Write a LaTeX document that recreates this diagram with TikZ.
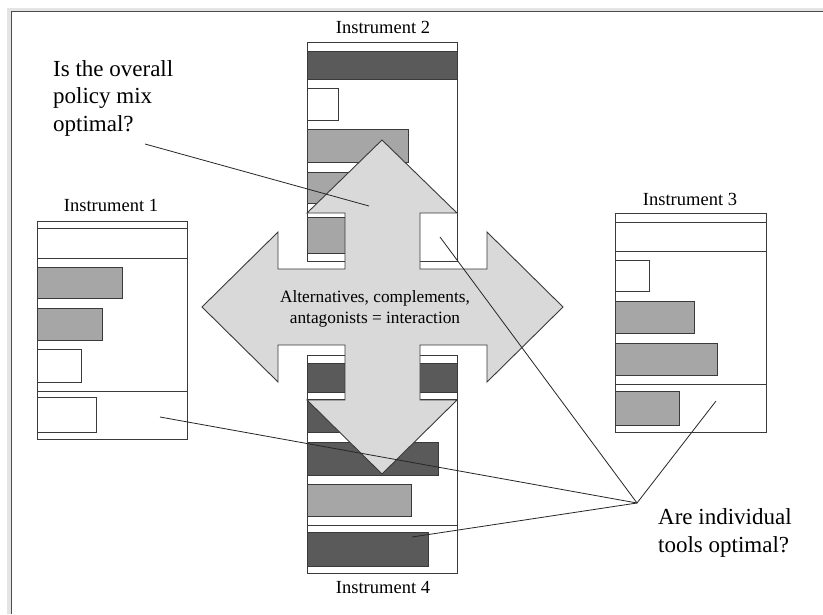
\documentclass[tikz,border=0pt]{standalone}
\usepackage{fontspec}
\setmainfont{Liberation Serif}
\definecolor{lc}{HTML}{3A3A3A}
\definecolor{dk}{HTML}{5A5A5A}
\definecolor{gy}{HTML}{A6A6A6}
\definecolor{ar}{HTML}{D9D9D9}
\definecolor{band}{HTML}{E4E4E4}
\tikzset{
  bx/.style={draw=lc, line width=0.9pt},
  dbar/.style={bx, fill=dk},
  gbar/.style={bx, fill=gy},
  wbar/.style={bx, fill=white},
  title/.style={font=\fontsize{18.5}{21}\selectfont, anchor=base, inner sep=0pt},
  bigtext/.style={font=\fontsize{23}{27.5}\selectfont, anchor=base west, align=left, inner sep=0pt},
  conn/.style={draw=black!85, line width=0.8pt},
}
\begin{document}
\begin{tikzpicture}[x=1pt,y=-1pt]
\useasboundingbox (0,0) rectangle (823,614);
\fill[white] (0,0) rectangle (823,614);
% page frame
\fill[band] (7,8) rectangle (823,11);
\fill[band] (7,8) rectangle (11,614);
\draw[draw=black!70, line width=1.5pt] (11.5,614) -- (11.5,11.5) -- (823,11.5);

% Instrument 1
\draw[bx] (37,221) rectangle (187,439);
\draw[bx] (37,228) -- (187,228);
\draw[bx] (37,258) -- (187,258);
\draw[gbar] (37,267) rectangle (122,298);
\draw[gbar] (37,308) rectangle (102,340);
\draw[wbar] (37,349) rectangle (81,382);
\draw[bx] (37,391) -- (187,391);
\draw[wbar] (37,397) rectangle (96,432);
\node[title] (t1) at (111,211) {Instrument 1};

% Instrument 2
\draw[bx] (307,42) rectangle (457,261);
\draw[dbar] (307,51) rectangle (457,79);
\draw[wbar] (307,88) rectangle (338,120);
\draw[gbar] (307,129) rectangle (408,162);
\draw[gbar] (307,172) rectangle (385,203);
\draw[gbar] (307,217) rectangle (370,253);
\node[title] (t2) at (383,33) {Instrument 2};

% Instrument 3
\draw[bx] (615,213) rectangle (766,432);
\draw[bx] (615,222) -- (766,222);
\draw[bx] (615,251) -- (766,251);
\draw[wbar] (615,260) rectangle (649,291);
\draw[gbar] (615,301) rectangle (694,333);
\draw[gbar] (615,343) rectangle (717,375);
\draw[bx] (615,384) -- (766,384);
\draw[gbar] (615,391) rectangle (679,425);
\node[title] (t3) at (690,205) {Instrument 3};

% Instrument 4
\draw[bx] (307,355) rectangle (457,573);
\draw[dbar] (307,363) rectangle (457,392);
\draw[bx] (307,399) -- (457,399);
\draw[dbar] (307,400) rectangle (400,432);
\draw[dbar] (307,442) rectangle (438,475);
\draw[gbar] (307,484) rectangle (411,516);
\draw[bx] (307,525) -- (457,525);
\draw[dbar] (307,532) rectangle (428,566);
\node[title] (t4) at (383,593) {Instrument 4};

% four-way arrow
\draw[bx, fill=ar] (382,140) -- (457,213) -- (420,213) -- (420,269) -- (487,269) -- (487,232)
  -- (563,307) -- (487,382) -- (487,345) -- (420,345) -- (420,400) -- (457,400)
  -- (382,474) -- (307,400) -- (345,400) -- (345,345) -- (278,345) -- (278,382)
  -- (202,307) -- (278,232) -- (278,269) -- (345,269) -- (345,213) -- (307,213) -- cycle;
\node[font=\fontsize{17.3}{21}\selectfont, align=center, inner sep=0pt, anchor=base] (mid) at (375,323)
  {Alternatives, complements,\\antagonists = interaction};

% questions
\node[bigtext] (q1) at (53,131) {Is the overall\\policy mix\\optimal?};
\node[bigtext] (q2) at (658,552) {Are individual\\tools optimal?};

% connectors
\coordinate (a1) at (145,144);
\coordinate (a2) at (369,206);
\coordinate (c) at (637,503);
\coordinate (e1) at (160,417);
\coordinate (e2) at (440,237);
\coordinate (e3) at (716,401);
\coordinate (e4) at (412,537);
\draw[conn] (a1) -- (a2);
\draw[conn] (e1) -- (c);
\draw[conn] (e4) -- (c);
\draw[conn] (e2) -- (c);
\draw[conn] (e3) -- (c);
\end{tikzpicture}
\end{document}
